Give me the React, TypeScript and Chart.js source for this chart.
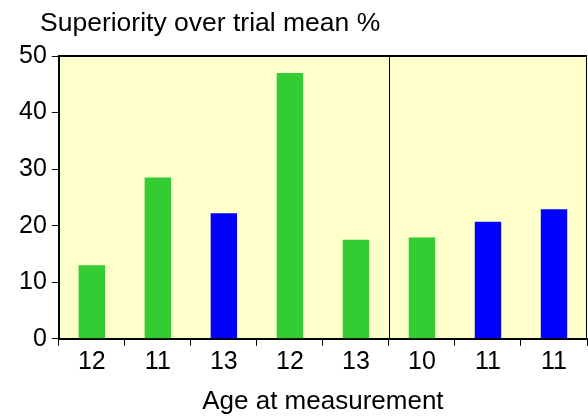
import React, { useEffect, useRef } from "react";
import { Chart, registerables } from "chart.js";

Chart.register(...registerables);

const categories = ["12", "11", "13", "12", "13", "10", "11", "11"];
const greenValues: (number | null)[] = [13, 28.5, null, 47, 17.5, 17.9, null, null];
const blueValues: (number | null)[] = [null, null, 22.2, null, null, null, 20.7, 22.9];
const yTicks = [0, 10, 20, 30, 40, 50];
const dividerAfterIndex = 4;
const titleText = "Superiority over trial mean %";
const xTitle = "Age at measurement";

const FONT = "'Liberation Sans', Arial, sans-serif";

export default function App() {
  const ref = useRef<HTMLCanvasElement | null>(null);
  useEffect(() => {
    document.body.style.margin = "0";
    const canvas = ref.current!;
    const decor = {
      id: "decor",
      beforeDraw(chart: any) {
        const { ctx, chartArea: a } = chart;
        ctx.save();
        ctx.fillStyle = "#FFFFCC";
        ctx.fillRect(a.left, a.top, a.right - a.left, a.bottom - a.top);
        ctx.restore();
      },
      afterDatasetsDraw(chart: any) {
        const { ctx, chartArea: a, scales } = chart;
        ctx.save();
        const x = Math.round(scales.x.getPixelForValue(dividerAfterIndex + 0.5)) + 0.5;
        ctx.strokeStyle = "#000";
        ctx.lineWidth = 1;
        ctx.beginPath();
        ctx.moveTo(x, a.top);
        ctx.lineTo(x, a.bottom);
        ctx.stroke();
        ctx.lineWidth = 2;
        ctx.beginPath();
        ctx.moveTo(a.left, a.top);
        ctx.lineTo(a.right, a.top);
        ctx.stroke();
        ctx.lineWidth = 1;
        ctx.beginPath();
        ctx.moveTo(a.right - 0.5, a.top);
        ctx.lineTo(a.right - 0.5, a.bottom);
        ctx.stroke();
        ctx.fillStyle = "#000";
        ctx.font = `26.5px ${FONT}`;
        ctx.textBaseline = "middle";
        ctx.textAlign = "left";
        ctx.fillText(titleText, 40, 24);
        ctx.restore();
      },
    };
    const chart = new Chart(canvas, {
      type: "bar",
      data: {
        labels: categories,
        datasets: [
          { data: greenValues, backgroundColor: "#33CC33", barPercentage: 0.4, categoryPercentage: 1 },
          { data: blueValues, backgroundColor: "#0000FF", barPercentage: 0.4, categoryPercentage: 1 },
        ],
      },
      options: {
        animation: false,
        responsive: false,
        skipNull: true,
        layout: { padding: { top: 56, right: 1, left: 14, bottom: 0 } },
        plugins: { legend: { display: false }, tooltip: { enabled: false }, title: { display: false } },
        scales: {
          x: {
            grid: { offset: true, drawOnChartArea: false, tickLength: 7, color: "#000", lineWidth: 1 },
            border: { display: true, color: "#000", width: 2 },
            ticks: { color: "#000", font: { family: FONT, size: 25 }, padding: 1, maxRotation: 0, autoSkip: false },
            title: { display: true, text: xTitle, color: "#000", font: { family: FONT, size: 26 }, padding: { top: 8, bottom: 0 } },
          },
          y: {
            min: 0,
            max: 50,
            afterBuildTicks(scale: any) {
              scale.ticks = yTicks.map((v) => ({ value: v }));
            },
            grid: { drawOnChartArea: false, tickLength: 7, color: "#000", lineWidth: 1 },
            border: { display: true, color: "#000", width: 2 },
            ticks: { color: "#000", font: { family: FONT, size: 25 }, padding: 5 },
          },
        },
      } as any,
      plugins: [decor],
    });
    return () => chart.destroy();
  }, []);
  return (
    <div style={{ width: 588, height: 417 }}>
      <canvas ref={ref} width={588} height={417} style={{ display: "block" }} />
    </div>
  );
}
